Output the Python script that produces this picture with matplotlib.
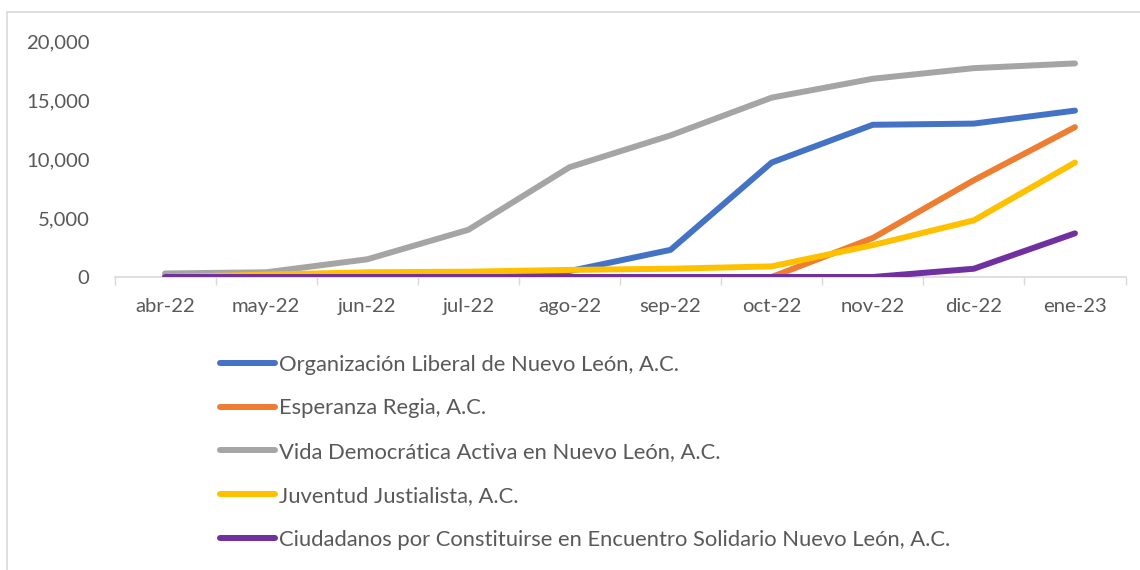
import numpy as np
import matplotlib.pyplot as plt
import matplotlib.patheffects as pe
from matplotlib.patches import Rectangle
from matplotlib.ticker import FuncFormatter

months = ['abr-22', 'may-22', 'jun-22', 'jul-22', 'ago-22', 'sep-22',
          'oct-22', 'nov-22', 'dic-22', 'ene-23']

names = ['Organización Liberal de Nuevo León, A.C.',
         'Esperanza Regia, A.C.',
         'Vida Democrática Activa en Nuevo León, A.C.',
         'Juventud Justialista, A.C.',
         'Ciudadanos por Constituirse en Encuentro Solidario Nuevo León, A.C.']

liberal = [0, 100, 200, 300, 500, 2300, 9700, 12900, 13000, 14100]
regia = [0, 0, 0, 0, 0, 0, 0, 3300, 8200, 12700]
vida = [300, 400, 1500, 4000, 9300, 12000, 15200, 16800, 17700, 18100]
juventud = [0, 200, 400, 450, 600, 700, 900, 2700, 4800, 9700]
ciudadanos = [0, 0, 0, 0, 0, 0, 0, 0, 700, 3700]

colors = ['#4472C4', '#ED7D31', '#A5A5A5', '#FFC000', '#7030A0']
series = [liberal, regia, vida, juventud, ciudadanos]

plt.rcParams['font.family'] = ['Lato', 'DejaVu Sans']
txt_color = '#595959'
fs = 14.6

fig = plt.figure(figsize=(11.4, 5.7), dpi=100)
W, H = 1140, 570
ax = fig.add_axes([114.5 / W, 1 - 277 / H, (1125.5 - 114.5) / W, (277 - 41) / H])

# chart border
fig.patches.append(Rectangle((7 / W, -0.1), 1.2, 1 - 12 / H + 0.1, transform=fig.transFigure,
                             fill=False, edgecolor='#D9D9D9', linewidth=1.2))

x = np.arange(len(months))
shadow = [pe.SimpleLineShadow(offset=(1.2, -1.2), shadow_color='#000000', alpha=0.15), pe.Normal()]
for vals, c, n in zip(series, colors, names):
    ax.plot(x, vals, color=c, lw=4.3, solid_capstyle='round', solid_joinstyle='round',
            label=n, path_effects=shadow)

ax.set_xlim(-0.5, len(months) - 0.5)
ax.set_ylim(0, 20000)
ax.set_yticks([0, 5000, 10000, 15000, 20000])
ax.yaxis.set_major_formatter(FuncFormatter(lambda v, p: f'{int(v):,}'))
ax.set_xticks(x)
ax.set_xticklabels(months)
ax.set_xticks(np.arange(-0.5, len(months)), minor=True)
ax.tick_params(axis='x', which='major', length=0, pad=15, labelsize=fs, labelcolor=txt_color)
ax.tick_params(axis='x', which='minor', length=6, color='#D9D9D9', width=1)
ax.tick_params(axis='y', length=0, pad=18, labelsize=fs, labelcolor=txt_color)
for s in ['top', 'right', 'left']:
    ax.spines[s].set_visible(False)
ax.spines['bottom'].set_color('#D9D9D9')
ax.spines['bottom'].set_linewidth(1.2)
ax.spines['bottom'].set_zorder(0)

handles, labels = ax.get_legend_handles_labels()
for h in handles:
    h.set_path_effects([])
leg = fig.legend(handles, labels, loc='upper left', bbox_to_anchor=(200 / W, 1 - 335 / H),
                 frameon=False, ncol=1, handlelength=2.5, handletextpad=0.22,
                 labelspacing=1.08, fontsize=15.8, labelcolor=txt_color)

fig.savefig('out.png', dpi=100)
